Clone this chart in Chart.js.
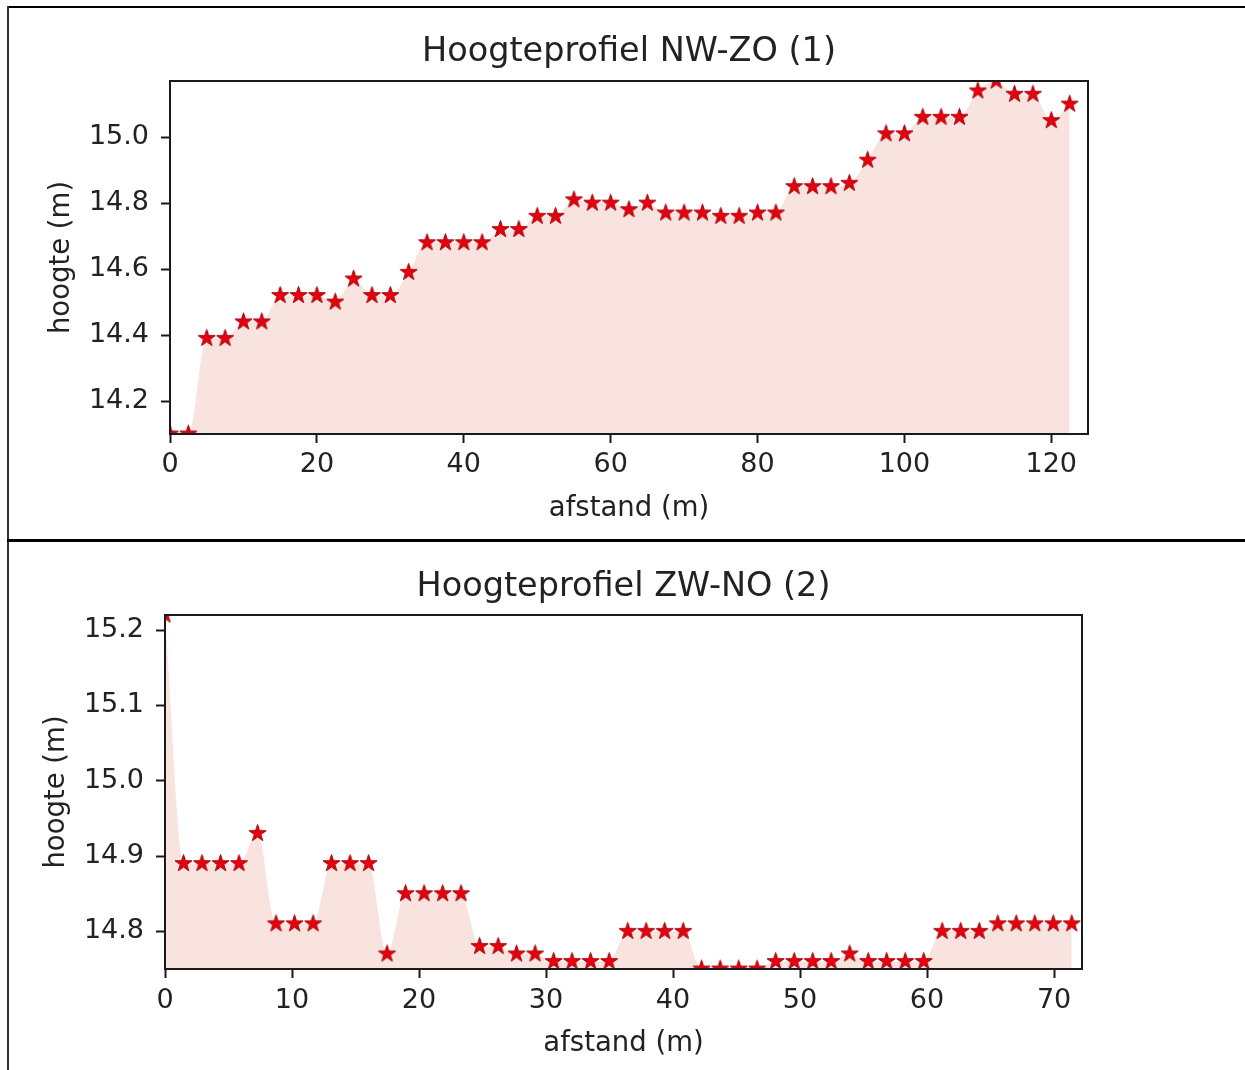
<!DOCTYPE html>
<html>
<head>
<meta charset="utf-8">
<title>Hoogteprofiel</title>
<script src="https://cdn.jsdelivr.net/npm/chart.js@4.4.1/dist/chart.umd.min.js"></script>
<style>
  html, body { margin: 0; padding: 0; background: #fff; overflow: hidden; }
  #page { position: relative; width: 1245px; height: 1070px; overflow: hidden; }
  .cell { position: absolute; left: 0; width: 1260px; }
  #cell1 { top: 0; height: 540px; }
  #cell2 { top: 540px; height: 530px; }
  .line { position: absolute; background: #000; }
</style>
</head>
<body>
<div id="page">
  <div class="cell" id="cell1"><canvas id="chart1" width="1260" height="540"></canvas></div>
  <div class="cell" id="cell2"><canvas id="chart2" width="1260" height="530"></canvas></div>
  <div class="line" style="left:7px;top:6px;width:1238px;height:2px"></div>
  <div class="line" style="left:7px;top:6px;width:2px;height:1064px;background:#333"></div>
  <div class="line" style="left:7px;top:539px;width:1238px;height:3px"></div>
</div>

<script>
// profiel 1: NW-ZO
const afstand1 = [0, 2.5, 5, 7.5, 10, 12.5, 15, 17.5, 20, 22.5,
  25, 27.5, 30, 32.5, 35, 37.5, 40, 42.5, 45, 47.5,
  50, 52.5, 55, 57.5, 60, 62.5, 65, 67.5, 70, 72.5,
  75, 77.5, 80, 82.5, 85, 87.5, 90, 92.5, 95, 97.5,
  100, 102.5, 105, 107.5, 110, 112.5, 115, 117.5, 120, 122.5];
const hoogte1 = [14.10, 14.10, 14.39, 14.39, 14.44, 14.44, 14.52, 14.52, 14.52, 14.50,
  14.57, 14.52, 14.52, 14.59, 14.68, 14.68, 14.68, 14.68, 14.72, 14.72,
  14.76, 14.76, 14.81, 14.80, 14.80, 14.78, 14.80, 14.77, 14.77, 14.77,
  14.76, 14.76, 14.77, 14.77, 14.85, 14.85, 14.85, 14.86, 14.93, 15.01,
  15.01, 15.06, 15.06, 15.06, 15.14, 15.17, 15.13, 15.13, 15.05, 15.10];
const xTicks1 = [0, 20, 40, 60, 80, 100, 120];
const yTicks1 = [14.2, 14.4, 14.6, 14.8, 15.0];

// profiel 2: ZW-NO
const afstand2 = [0, 1.46, 2.91, 4.37, 5.83, 7.29, 8.74, 10.20, 11.66, 13.11,
  14.57, 16.03, 17.48, 18.94, 20.40, 21.86, 23.31, 24.77, 26.23, 27.68,
  29.14, 30.60, 32.05, 33.51, 34.97, 36.43, 37.88, 39.34, 40.80, 42.25,
  43.71, 45.17, 46.62, 48.08, 49.54, 51.00, 52.45, 53.91, 55.37, 56.82,
  58.28, 59.74, 61.19, 62.65, 64.11, 65.57, 67.02, 68.48, 69.94, 71.39];
const hoogte2 = [15.22, 14.89, 14.89, 14.89, 14.89, 14.93, 14.81, 14.81, 14.81, 14.89,
  14.89, 14.89, 14.77, 14.85, 14.85, 14.85, 14.85, 14.78, 14.78, 14.77,
  14.77, 14.76, 14.76, 14.76, 14.76, 14.80, 14.80, 14.80, 14.80, 14.75,
  14.75, 14.75, 14.75, 14.76, 14.76, 14.76, 14.76, 14.77, 14.76, 14.76,
  14.76, 14.76, 14.80, 14.80, 14.80, 14.81, 14.81, 14.81, 14.81, 14.81];
const xTicks2 = [0, 10, 20, 30, 40, 50, 60, 70];
const yTicks2 = [14.8, 14.9, 15.0, 15.1, 15.2];

const FONT = '"DejaVu Sans", sans-serif';
const TEXT = '#222';
const FILL = '#f8e3df';

// matplotlib-achtige ster marker
function makeStar(R) {
  const size = Math.ceil(R * 2 + 3);
  const c = document.createElement('canvas');
  c.width = c.height = size;
  const g = c.getContext('2d');
  const cx = size / 2, cy = size / 2, r = R * 0.381966;
  g.beginPath();
  for (let i = 0; i < 10; i++) {
    const a = -Math.PI / 2 + i * Math.PI / 5;
    const rad = i % 2 ? r : R;
    g.lineTo(cx + rad * Math.cos(a), cy + rad * Math.sin(a));
  }
  g.closePath();
  g.fillStyle = '#e6000e';
  g.fill();
  g.lineWidth = 1;
  g.strokeStyle = '#a5000a';
  g.stroke();
  return c;
}
const star = makeStar(9);

// kader rond het plotgebied
const framePlugin = {
  id: 'frame',
  afterDraw(chart) {
    const a = chart.chartArea, ctx = chart.ctx;
    ctx.save();
    ctx.strokeStyle = '#1a1a1a';
    ctx.lineWidth = 2;
    ctx.strokeRect(a.left, a.top, a.right - a.left, a.bottom - a.top);
    ctx.restore();
  }
};

function makeChart(id, xs, ys, xTicks, yTicks, title, lay) {
  const pts = xs.map((x, i) => ({x: x, y: ys[i]}));
  return new Chart(document.getElementById(id), {
    type: 'line',
    data: {
      datasets: [
        {
          data: pts,
          fill: 'start',
          backgroundColor: FILL,
          borderWidth: 0,
          pointRadius: 0,
          cubicInterpolationMode: 'monotone',
          order: 2
        },
        {
          type: 'scatter',
          data: pts,
          showLine: false,
          pointStyle: star,
          pointRadius: 9,
          clip: 0,
          order: 1
        }
      ]
    },
    options: {
      responsive: false,
      animation: false,
      layout: {padding: {left: 0, top: 0, right: lay.right, bottom: 0}},
      plugins: {
        legend: {display: false},
        tooltip: {enabled: false},
        title: {
          display: true,
          text: title,
          color: TEXT,
          font: {family: FONT, size: 33.5, weight: 'normal'},
          padding: {top: lay.titleTop, bottom: lay.titleBottom}
        }
      },
      scales: {
        x: {
          type: 'linear',
          min: 0,
          max: lay.xMax,
          grid: {drawOnChartArea: false, drawTicks: true, tickLength: 9, tickColor: '#1a1a1a', tickWidth: 2},
          border: {display: false},
          afterBuildTicks: s => { s.ticks = xTicks.map(v => ({value: v})); },
          afterFit: s => { s.height = lay.xHeight; },
          ticks: {
            autoSkip: false, maxRotation: 0, padding: lay.xPad, color: TEXT,
            font: {family: FONT, size: 27},
            callback: v => String(v)
          },
          title: {
            display: true, text: 'afstand (m)', color: TEXT,
            font: {family: FONT, size: 27.5},
            padding: {top: 0, bottom: lay.xTitleBottom}
          }
        },
        y: {
          type: 'linear',
          min: Math.min(...ys),
          max: Math.max(...ys),
          grid: {drawOnChartArea: false, drawTicks: true, tickLength: 9, tickColor: '#1a1a1a', tickWidth: 2},
          border: {display: false},
          afterBuildTicks: s => { s.ticks = yTicks.map(v => ({value: v})); },
          afterFit: s => { s.width = lay.yWidth; },
          ticks: {
            padding: 12, color: TEXT,
            font: {family: FONT, size: 27},
            callback: v => v.toFixed(1)
          },
          title: {
            display: true, text: 'hoogte (m)', color: TEXT,
            font: {family: FONT, size: 27.5},
            padding: {top: lay.yTitleTop, bottom: 0}
          }
        },
        // lege as rechts, zodat de titel boven het plotgebied gecentreerd staat
        yRight: {
          type: 'linear',
          position: 'right',
          min: 0,
          max: 1,
          grid: {display: false},
          border: {display: false},
          ticks: {display: false},
          afterFit: s => { s.width = lay.yWidth; }
        }
      }
    },
    plugins: [framePlugin]
  });
}

makeChart('chart1', afstand1, hoogte1, xTicks1, yTicks1, 'Hoogteprofiel NW-ZO (1)', {
  right: 2, xMax: 125, xHeight: 106, yWidth: 170,
  titleTop: 32.4, titleBottom: 8.4, xPad: 6, xTitleBottom: 14.5, yTitleTop: 45
});

makeChart('chart2', afstand2, hoogte2, xTicks2, yTicks2, 'Hoogteprofiel ZW-NO (2)', {
  right: 13, xMax: 72.2, xHeight: 101, yWidth: 165,
  titleTop: 26.9, titleBottom: 7.9, xPad: 7, xTitleBottom: 9.5, yTitleTop: 40
});
</script>
</body>
</html>
